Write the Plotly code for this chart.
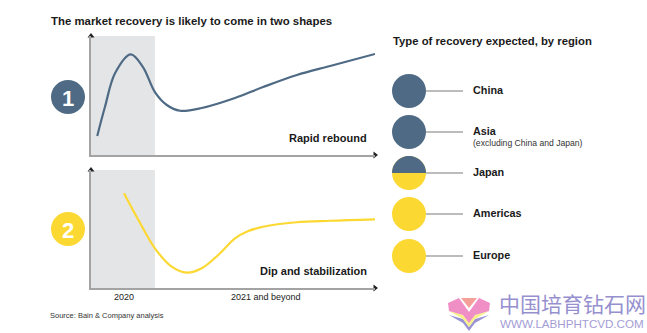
import numpy as np
import plotly.graph_objects as go

W, H = 647, 333

# ---------------- data ----------------
period_split = 22.5          # end of 2020 on the time axis (0-100)
period_labels = ["2020", "2021 and beyond"]
period_label_x = [11.5, 61.5]

rapid_x = [2.2, 4.9, 8.5, 14.0, 18.3, 22.5, 26.7, 31.3, 39.0, 50.7, 60.6, 72.5, 84.2, 100.0]
rapid_y = [16.0, 40.3, 68.9, 84.6, 73.9, 52.9, 42.0, 37.2, 39.5, 47.9, 57.1, 67.2, 74.8, 84.9]

dip_x = [11.6, 16.7, 22.5, 28.4, 33.7, 39.0, 44.8, 50.7, 54.8, 60.6, 72.4, 84.2, 100.0]
dip_y = [80.3, 57.6, 33.6, 18.1, 13.0, 16.7, 28.0, 42.1, 47.7, 51.9, 55.7, 57.0, 58.2]

shape_names = ["Rapid rebound", "Dip and stabilization"]
regions = ["China", "Asia", "Japan", "Americas", "Europe"]
region_notes = ["", "(excluding China and Japan)", "", "", ""]
region_type = ["1", "1", "mixed", "2", "2"]

title_left = "The market recovery is likely to come in two shapes"
title_right = "Type of recovery expected, by region"
source = "Source: Bain & Company analysis"

BLUE = "#4E6A84"
YELLOW = "#FCD833"
SHADE = "#E4E5E7"
AXIS = "#A3A3A3"
FONT = "Arial, Liberation Sans, sans-serif"


def px(x):
    return x / W


def py(y):
    return 1 - y / H


fig = go.Figure()

# ---------------- curves ----------------
fig.add_trace(go.Scatter(x=rapid_x, y=rapid_y, mode="lines",
                         line=dict(color=BLUE, width=2.2, shape="spline", smoothing=1.0),
                         xaxis="x", yaxis="y", hoverinfo="skip", showlegend=False))
fig.add_trace(go.Scatter(x=dip_x, y=dip_y, mode="lines",
                         line=dict(color=YELLOW, width=2.2, shape="spline", smoothing=1.0),
                         xaxis="x2", yaxis="y2", hoverinfo="skip", showlegend=False))

# arrow heads on the axes
for xa, ya in (("x", "y"), ("x2", "y2")):
    fig.add_trace(go.Scatter(x=[0, 100], y=[100, 0], mode="markers",
                             marker=dict(symbol=["triangle-up", "triangle-right"], size=6,
                                         color="#222222"),
                             xaxis=xa, yaxis=ya, cliponaxis=False,
                             hoverinfo="skip", showlegend=False))

axis_common = dict(showgrid=False, zeroline=False, showticklabels=False, ticks="",
                   showline=True, linecolor=AXIS, linewidth=1.5, range=[0, 100],
                   fixedrange=True)

fig.update_layout(
    width=W, height=H,
    margin=dict(l=0, r=0, t=0, b=0),
    paper_bgcolor="white", plot_bgcolor="rgba(0,0,0,0)",
    font=dict(family=FONT, color="#1a1a1a"),
    xaxis=dict(domain=[px(91), px(375)], anchor="y", **axis_common),
    yaxis=dict(domain=[py(155), py(36)], anchor="x", **axis_common),
    xaxis2=dict(domain=[px(91), px(375)], anchor="y2", **axis_common),
    yaxis2=dict(domain=[py(288), py(170)], anchor="x2", **axis_common),
)

shapes = []
annotations = []

# shaded 2020 period
for xr, yr in (("x", "y"), ("x2", "y2")):
    shapes.append(dict(type="rect", xref=xr, yref=yr, x0=0, x1=period_split, y0=0, y1=100,
                       fillcolor=SHADE, line=dict(width=0), layer="below"))

# shape labels inside plots
for (xr, yr), name in zip((("x", "y"), ("x2", "y2")), shape_names):
    annotations.append(dict(xref=xr, yref=yr, x=98, y=14, text="<b>%s</b>" % name,
                            showarrow=False, xanchor="right", yanchor="middle",
                            font=dict(size=11, color="#1a1a1a")))

# period labels
for lx, lt in zip(period_label_x, period_labels):
    annotations.append(dict(xref="x2", yref="paper", x=lx, y=py(297), text=lt,
                            showarrow=False, xanchor="center", yanchor="middle",
                            font=dict(size=9, color="#222")))

# numbered circles
for num, cy, col in (("1", 97, BLUE), ("2", 229, YELLOW)):
    shapes.append(dict(type="circle", xref="paper", yref="paper", xsizemode="pixel",
                       ysizemode="pixel", xanchor=px(68), yanchor=py(cy),
                       x0=-17, x1=17, y0=-17, y1=17, fillcolor=col, line=dict(width=0)))
    annotations.append(dict(xref="paper", yref="paper", x=px(68), y=py(cy + 1),
                            text="<b>%s</b>" % num, showarrow=False,
                            font=dict(size=22, color="white"),
                            xanchor="center", yanchor="middle"))

# titles and source
annotations.append(dict(xref="paper", yref="paper", x=px(49), y=py(21),
                        text="<b>%s</b>" % title_left, showarrow=False,
                        xanchor="left", yanchor="middle", font=dict(size=11.4)))
annotations.append(dict(xref="paper", yref="paper", x=px(391), y=py(41),
                        text="<b>%s</b>" % title_right, showarrow=False,
                        xanchor="left", yanchor="middle", font=dict(size=11.3)))
annotations.append(dict(xref="paper", yref="paper", x=px(48), y=py(315),
                        text=source, showarrow=False,
                        xanchor="left", yanchor="middle", font=dict(size=7.5, color="#333")))

# region legend
region_y = [91, 132, 173, 214, 256]
cx, r = 409, 17
for name, note, typ, ry in zip(regions, region_notes, region_type, region_y):
    if typ == "mixed":
        shapes.append(dict(type="circle", xref="paper", yref="paper", xsizemode="pixel",
                           ysizemode="pixel", xanchor=px(cx), yanchor=py(ry),
                           x0=-r, x1=r, y0=-r, y1=r, fillcolor=YELLOW, line=dict(width=0)))
        ang = np.linspace(0, np.pi, 40)
        pts = " L".join("%.2f,%.2f" % (r * np.cos(a), r * np.sin(a)) for a in ang)
        shapes.append(dict(type="path", xref="paper", yref="paper", xsizemode="pixel",
                           ysizemode="pixel", xanchor=px(cx), yanchor=py(ry),
                           path="M" + pts + " Z", fillcolor=BLUE, line=dict(width=0)))
    else:
        col = BLUE if typ == "1" else YELLOW
        shapes.append(dict(type="circle", xref="paper", yref="paper", xsizemode="pixel",
                           ysizemode="pixel", xanchor=px(cx), yanchor=py(ry),
                           x0=-r, x1=r, y0=-r, y1=r, fillcolor=col, line=dict(width=0)))
    shapes.append(dict(type="line", xref="paper", yref="paper", x0=px(cx + r), x1=px(463),
                       y0=py(ry), y1=py(ry), line=dict(color="#7a7a7a", width=1.2)))
    annotations.append(dict(xref="paper", yref="paper", x=px(471), y=py(ry - 1),
                            text="<b>%s</b>" % name, showarrow=False,
                            xanchor="left", yanchor="middle", font=dict(size=10.8)))
    if note:
        annotations.append(dict(xref="paper", yref="paper", x=px(471), y=py(ry + 11),
                                text=note, showarrow=False,
                                xanchor="left", yanchor="middle",
                                font=dict(size=8.6, color="#333")))

# watermark
def ppath(points):
    return "M" + " L".join("%.5f,%.5f" % (px(a), py(b)) for a, b in points) + " Z"

logo = [
    ([(449, 315), (463, 323), (469, 331), (469, 327), (463, 319)], "#8E86CF"),
    ([(489, 315), (475, 323), (469, 331), (469, 327), (475, 319)], "#8E86CF"),
    ([(449, 311), (463, 319), (469, 327), (469, 323), (463, 315)], "#F7F07A"),
    ([(489, 311), (475, 319), (469, 327), (469, 323), (475, 315)], "#F7F07A"),
    ([(448, 303), (459, 298), (469, 312), (469, 323), (463, 315), (449, 311)], "#EE82C0"),
    ([(490, 303), (479, 298), (469, 312), (469, 323), (475, 315), (489, 311)], "#EE82C0"),
    ([(461, 298), (477, 298), (469, 308)], "#F4958F"),
]
for pts, col in logo:
    shapes.append(dict(type="path", xref="paper", yref="paper", path=ppath(pts),
                       fillcolor=col, line=dict(width=0), opacity=0.9))
annotations.append(dict(xref="paper", yref="paper", x=px(497), y=py(303),
                        text="中国培育钻石网", showarrow=False, xanchor="left",
                        yanchor="middle",
                        font=dict(size=21, color="#9690CF", family="Noto Sans CJK SC")))
annotations.append(dict(xref="paper", yref="paper", x=px(498), y=py(323),
                        text="WWW.LABHPHTCVD.COM", showarrow=False, xanchor="left",
                        yanchor="middle",
                        font=dict(size=11.6, color="#A39DD4", family=FONT)))

fig.update_layout(shapes=shapes, annotations=annotations)
fig.write_html("out.html")
